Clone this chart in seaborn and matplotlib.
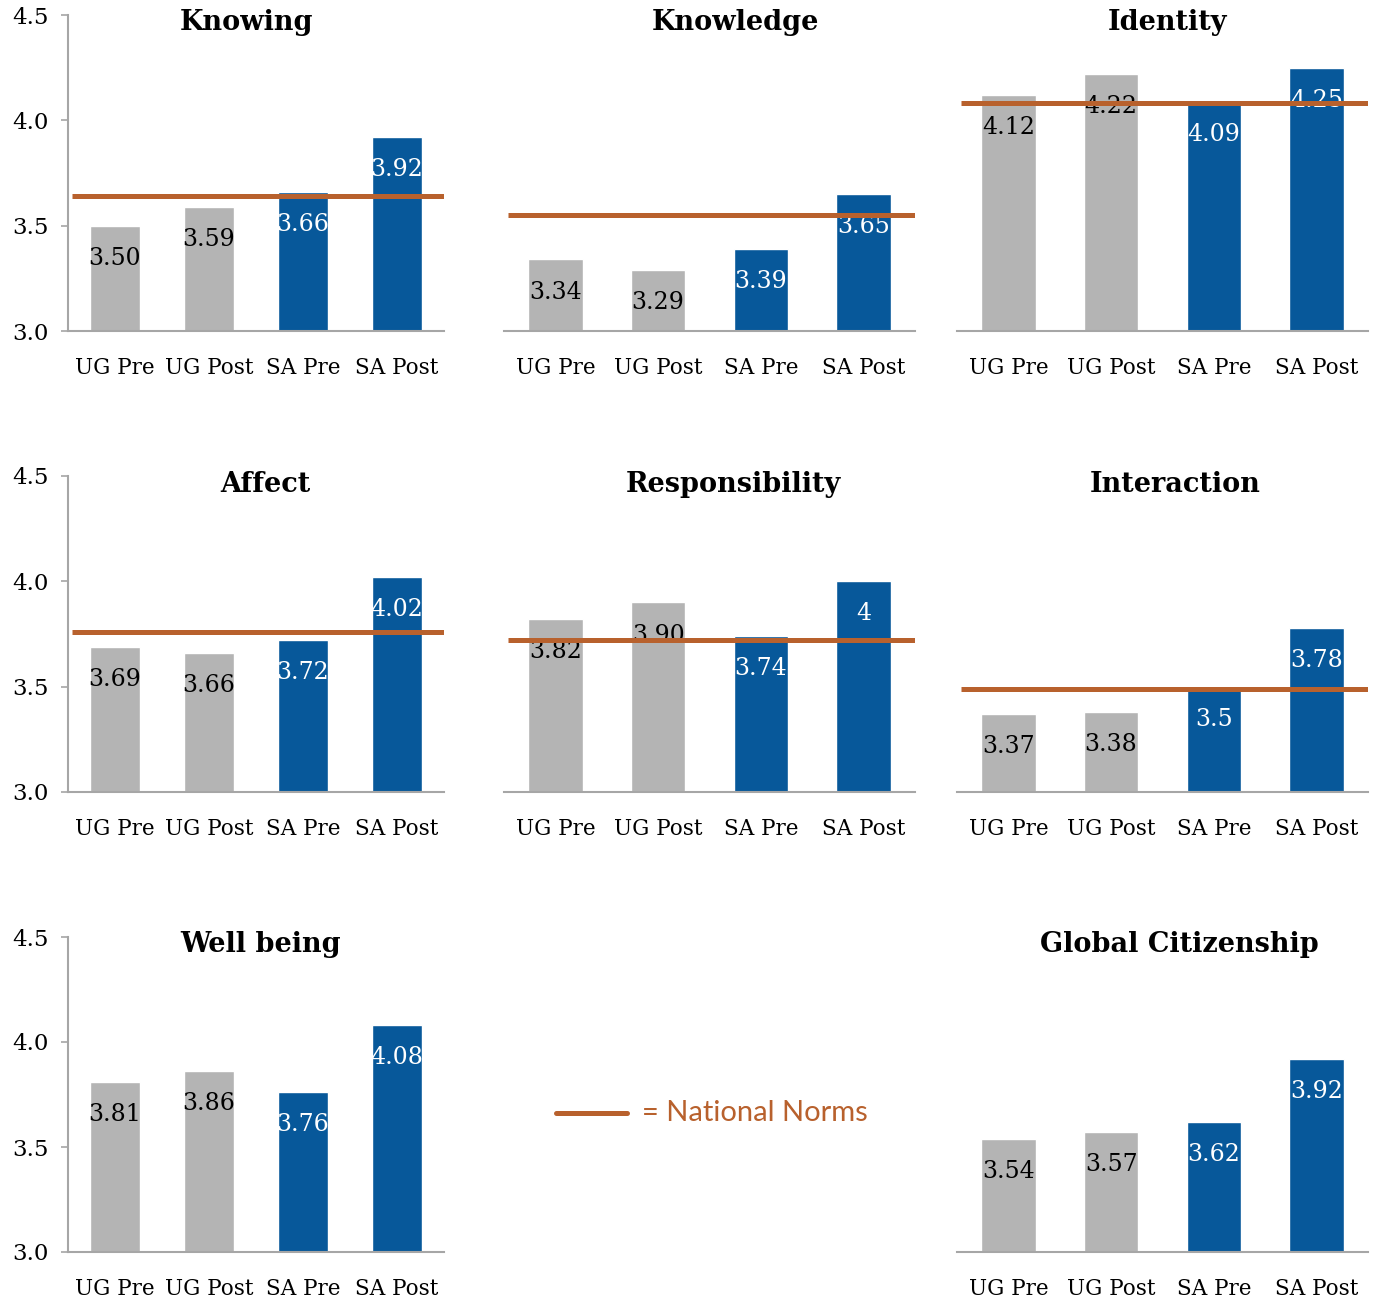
import matplotlib
matplotlib.use("Agg")
import matplotlib.pyplot as plt
import seaborn as sns
import pandas as pd
from matplotlib.lines import Line2D

sns.set_theme(style="white")
plt.rcParams['font.family'] = ['DejaVu Serif']

# ---------------- data ----------------
groups = ["UG Pre", "UG Post", "SA Pre", "SA Post"]
panels = ["Knowing", "Knowledge", "Identity", "Affect", "Responsibility",
          "Interaction", "Well being", "Global Citizenship"]

knowing = [3.50, 3.59, 3.66, 3.92]
knowledge = [3.34, 3.29, 3.39, 3.65]
identity = [4.12, 4.22, 4.09, 4.25]
affect = [3.69, 3.66, 3.72, 4.02]
responsibility = [3.82, 3.90, 3.74, 4.00]
interaction = [3.37, 3.38, 3.50, 3.78]
well_being = [3.81, 3.86, 3.76, 4.08]
global_citizenship = [3.54, 3.57, 3.62, 3.92]

knowing_labels = ["3.50", "3.59", "3.66", "3.92"]
knowledge_labels = ["3.34", "3.29", "3.39", "3.65"]
identity_labels = ["4.12", "4.22", "4.09", "4.25"]
affect_labels = ["3.69", "3.66", "3.72", "4.02"]
responsibility_labels = ["3.82", "3.90", "3.74", "4"]
interaction_labels = ["3.37", "3.38", "3.5", "3.78"]
well_being_labels = ["3.81", "3.86", "3.76", "4.08"]
global_citizenship_labels = ["3.54", "3.57", "3.62", "3.92"]

# national norms (None = not shown)
norms = [3.64, 3.55, 4.08, 3.76, 3.72, 3.49, None, None]

y_ticks = [3.0, 3.5, 4.0, 4.5]
legend_text = "= National Norms"

values = [knowing, knowledge, identity, affect, responsibility,
          interaction, well_being, global_citizenship]
labels = [knowing_labels, knowledge_labels, identity_labels, affect_labels,
          responsibility_labels, interaction_labels, well_being_labels,
          global_citizenship_labels]

# ---------------- style ----------------
GRAY = "#B4B4B4"
BLUE = "#07589A"
ORANGE = "#B8612D"
AXIS = "#A6A6A6"
palette = {"UG Pre": GRAY, "UG Post": GRAY, "SA Pre": BLUE, "SA Post": BLUE}
text_colors = ["black", "black", "white", "white"]

W, H = 1374, 1300
fig = plt.figure(figsize=(W / 100, H / 100), dpi=100)

col_x = [(68, 376), (504, 411), (957, 411)]
row_y = [(15, 331), (476, 792), (937, 1252)]
# grid slot for each panel (row, col)
slots = [(0, 0), (0, 1), (0, 2), (1, 0), (1, 1), (1, 2), (2, 0), (2, 2)]
title_x = [0.476, 0.562, 0.511, 0.524, 0.557, 0.530, 0.511, 0.540]

for i, name in enumerate(panels):
    r, c = slots[i]
    x0, w = col_x[c]
    top, bot = row_y[r]
    ax = fig.add_axes([x0 / W, 1 - bot / H, w / W, (bot - top) / H])
    df = pd.DataFrame({"group": groups, "value": values[i]})
    sns.barplot(data=df, x="group", y="value", hue="group", palette=palette,
                order=groups, hue_order=groups, width=0.53, legend=False,
                saturation=1, ax=ax, bottom=0, zorder=2)
    ax.set_ylim(3.0, 4.5)
    ax.set_xlim(-0.5, 3.5)
    ax.set_xlabel("")
    ax.set_ylabel("")
    for s in ["top", "right"]:
        ax.spines[s].set_visible(False)
    ax.spines["bottom"].set_color(AXIS)
    ax.spines["bottom"].set_linewidth(1.5)
    ax.tick_params(axis="x", length=0, pad=19, labelsize=15.5,
                   labelcolor="black")
    if c == 0:
        ax.spines["left"].set_color(AXIS)
        ax.spines["left"].set_linewidth(1.5)
        ax.set_yticks(y_ticks)
        ax.set_yticklabels([f"{t:.1f}" for t in y_ticks])
        ax.tick_params(axis="y", length=5, width=1.2, color=AXIS, pad=9,
                       labelsize=16.5, labelcolor="black", left=True)
    else:
        ax.spines["left"].set_visible(False)
        ax.set_yticks([])
    for j, (v, lab) in enumerate(zip(values[i], labels[i])):
        ax.text(j, v - 0.155, lab, ha="center", va="center", fontsize=17,
                color=text_colors[j], zorder=4)
    if norms[i] is not None:
        ax.hlines(norms[i], -0.46, 3.55, color=ORANGE, lw=3.6, zorder=5)
    ax.text(title_x[i], 1 - 8 / (bot - top), name, transform=ax.transAxes,
            ha="center", va="center", fontsize=19.5, fontweight="bold",
            color="black")
    ax.set_facecolor("white")

# legend in empty slot
fig.add_artist(Line2D([556 / W, 627 / W], [1 - 1113 / H, 1 - 1113 / H],
                      color=ORANGE, lw=3.6, transform=fig.transFigure))
fig.text(642 / W, 1 - 1113 / H, legend_text, ha="left", va="center",
         fontsize=21, color=ORANGE, family=["Lato", "DejaVu Sans"])

fig.savefig("out.png", dpi=100, facecolor="white")
